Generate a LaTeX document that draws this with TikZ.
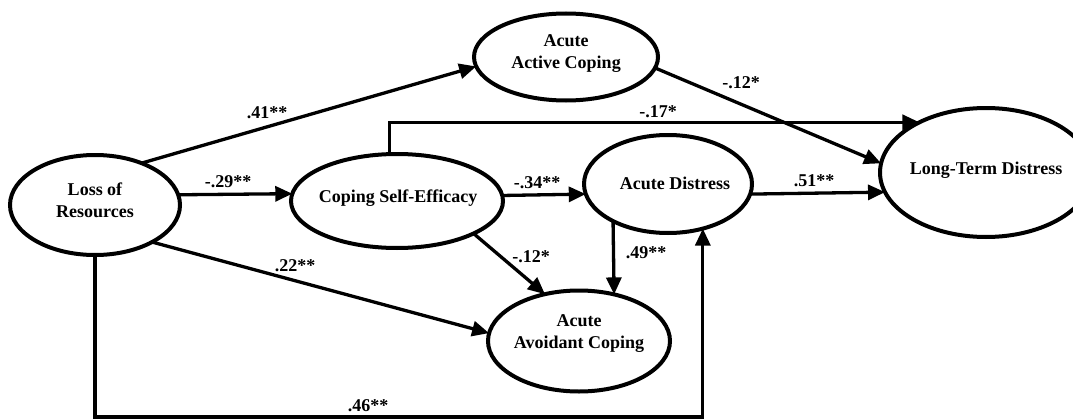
\documentclass[tikz,border=0pt]{standalone}
\usepackage{fontspec}
\setmainfont{Liberation Serif}
\usetikzlibrary{arrows.meta,shapes.geometric}
\begin{document}
\begin{tikzpicture}[x=1pt,y=-1pt,
  latent/.style={draw,ellipse,line width=4pt,inner sep=0pt,outer sep=0pt},
  ttl/.style={align=center,font=\fontsize{18}{22}\selectfont\bfseries,inner sep=0pt},
  coef/.style={font=\fontsize{18}{22}\selectfont\bfseries,inner sep=0pt},
  link/.style={line width=3.3pt,-{Triangle[length=17pt,width=15pt]}},
]
\useasboundingbox (0,0) rectangle (1073,420);

% latent variables
\node[latent,minimum width=170pt,minimum height=100pt] (loss) at (95,205) {};
\node[latent,minimum width=212pt,minimum height=94pt] (cse) at (397,201) {};
\node[latent,minimum width=184pt,minimum height=87pt] (act) at (566,57) {};
\node[latent,minimum width=168pt,minimum height=98pt] (ad) at (668,184) {};
\node[latent,minimum width=212pt,minimum height=129pt] (ltd) at (986,172.5) {};
\node[latent,minimum width=182pt,minimum height=101pt] (avo) at (579,341) {};

% titles
\node[ttl] (losst) at (95,200) {Loss of\\Resources};
\node[ttl] (cset) at (398,198) {Coping Self-Efficacy};
\node[ttl] (actt) at (566,54) {Acute\\Active Coping};
\node[ttl] (adt) at (675,183) {Acute Distress};
\node[ttl] (ltdt) at (986,170) {Long-Term Distress};
\node[ttl] (avot) at (579,334) {Acute\\Avoidant Coping};

% paths
\draw[link] (loss.42) -- (act.186);
\draw[link] (loss.7.2) -- (cse.176.5);
\draw[link] (cse.3.27) -- (ad.187.65);
\draw[link] (ad.353.78) -- (ltd.191.5);
\draw[link] (act.353.1) -- (ltd.175.9);
\draw[link] (cse.99.7) |- (ltd.143.9);
\draw[link] (cse.-23.6) -- (avo.126.3);
\draw[link] (loss.-33.2) -- (avo.175);
\draw[link] (ad.214.8) -- (avo.53.1);
\coordinate (bot) at (0,417);
\draw[link] (loss.south) -- (loss.south |- bot) -| (ad.308.2);

% coefficients
\node[coef] (c41) at (267,113) {.41**};
\node[coef] (c29) at (228,182) {-.29**};
\node[coef] (c34) at (537,183) {-.34**};
\node[coef] (c17) at (658,112) {-.17*};
\node[coef] (c12a) at (741,83) {-.12*};
\node[coef] (c51) at (814,181) {.51**};
\node[coef] (c49) at (646,253) {.49**};
\node[coef] (c12b) at (531,257) {-.12*};
\node[coef] (c22) at (295,266) {.22**};
\node[coef] (c46) at (368,406) {.46**};
\end{tikzpicture}
\end{document}
